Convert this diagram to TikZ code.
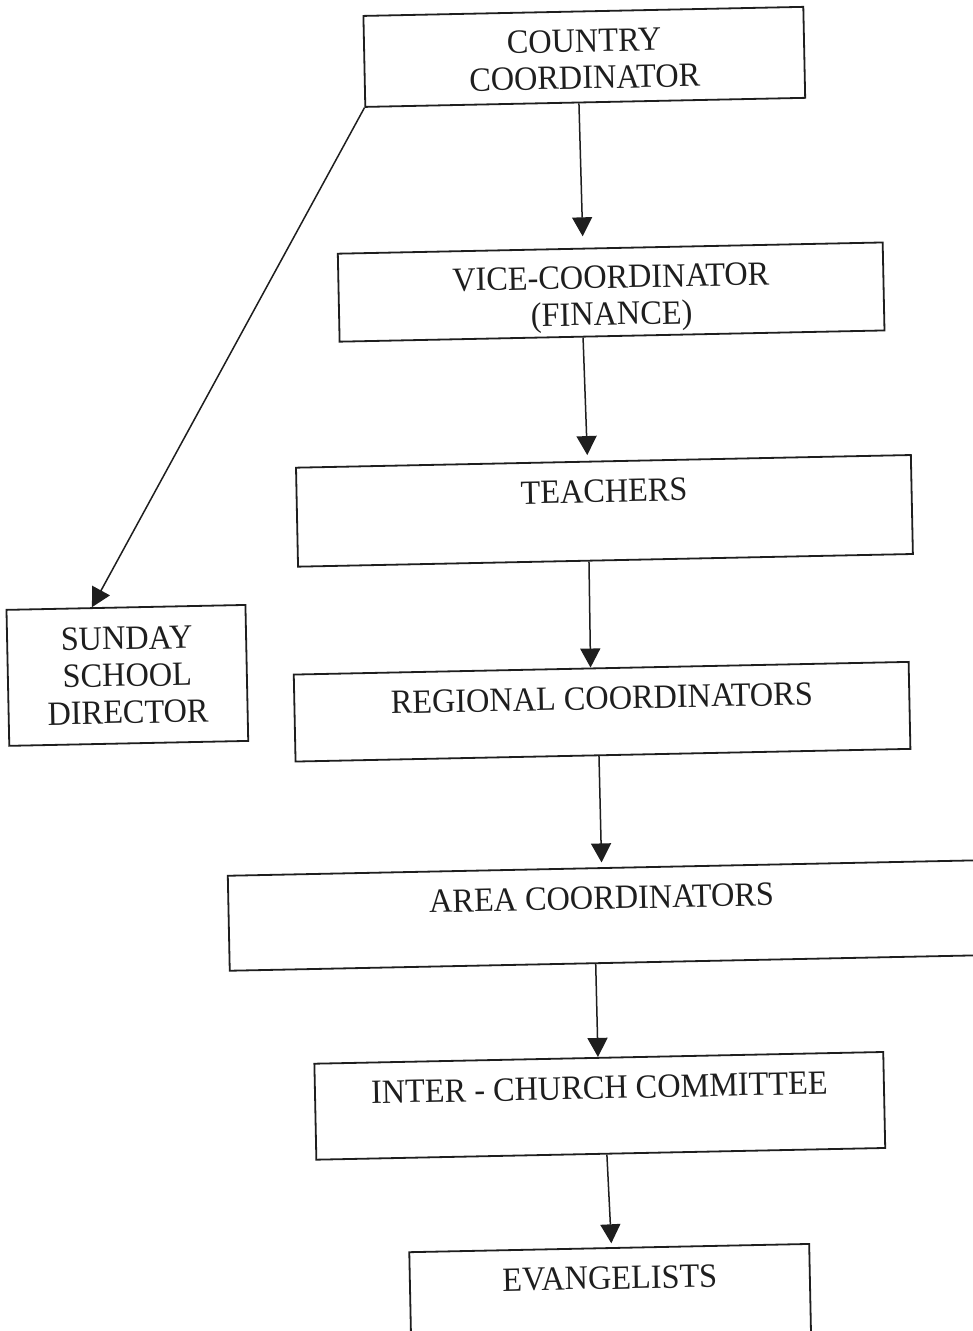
\documentclass[tikz,border=0pt]{standalone}
\usepackage{fontspec}
\setmainfont[FakeStretch=0.95]{Liberation Serif}
\usetikzlibrary{arrows.meta}
\definecolor{ink}{RGB}{30,30,30}
\begin{document}
\begin{tikzpicture}[x=1pt,y=-1pt,
  every node/.style={font=\fontsize{34}{37}\selectfont, text=ink},
  box/.style={draw=ink, line width=1.8pt, rectangle, inner xsep=0pt, align=center},
  twoline/.style 2 args={box, inner ysep=0pt, minimum width=#1, minimum height=#2},
  oneline/.style 2 args={box, minimum width=#1, text height=23pt, inner ysep=18pt, text depth=#2},
  arr/.style={draw=ink, line width=1.5pt, -{Triangle[length=19pt,width=20pt]}}
]
\useasboundingbox (0,0) rectangle (973,1331);
\fill[white] (0,0) rectangle (973,1331);
\clip (0,0) rectangle (973,1331);
\begin{scope}[rotate around={1.18:(486,665)}, transform shape]
\node[twoline={440pt}{91pt}, text height=64pt, text depth=0pt] (country) at (596.8,59) {COUNTRY\\COORDINATOR};
\node[twoline={545pt}{88pt}, text height=66pt, text depth=0pt] (vice) at (618.8,294.7) {VICE-COORDINATOR\\(FINANCE)};
\node[oneline={615pt}{40pt}] (teachers) at (607.6,513.3) {TEACHERS};
\node[twoline={239pt}{136pt}] (sunday) at (127.2,668) {SUNDAY\\SCHOOL\\DIRECTOR};
\node[oneline={615pt}{28pt}] (regional) at (601.1,714.1) {REGIONAL COORDINATORS};
\node[oneline={746.5pt}{36pt}] (area) at (596.75,917.9) {AREA COORDINATORS};
\node[oneline={569pt}{37pt}] (inter) at (590.7,1108.1) {INTER - CHURCH COMMITTEE};
\node[oneline={400pt}{41pt}] (evang) at (597.2,1300.5) {EVANGELISTS};

\draw[arr] ([xshift=-6.3pt]country.south) -- ([xshift=-27.3pt,yshift=11.4pt]vice.north);
\draw[arr] ([xshift=-29pt]vice.south) -- ([xshift=-16pt,yshift=5.7pt]teachers.north);
\draw[arr] ([xshift=-16.5pt]teachers.south) -- ([xshift=-10.6pt]regional.north);
\draw[arr] ([xshift=-4pt]regional.south) -- ([xshift=0.7pt,yshift=4.7pt]area.north);
\draw[arr] ([xshift=-7.2pt]area.south) -- ([xshift=-0.8pt]inter.north);
\draw[arr] ([xshift=6.1pt]inter.south) -- ([xshift=2.2pt,yshift=3.8pt]evang.north);
\draw[arr] (country.south west) -- ([xshift=-34pt]sunday.north);
\end{scope}
\end{tikzpicture}
\end{document}
